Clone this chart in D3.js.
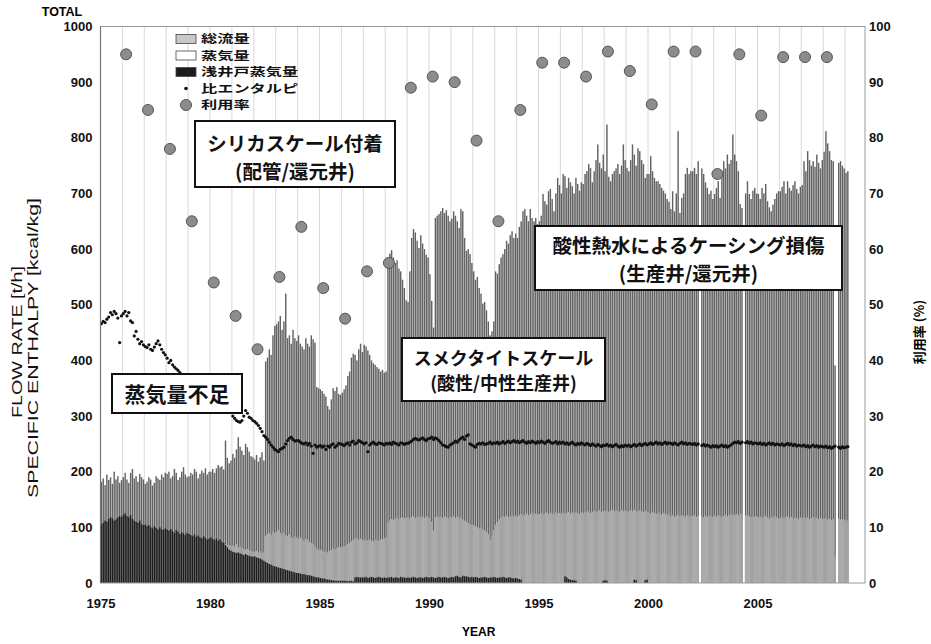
<!DOCTYPE html>
<html>
<head>
<meta charset="utf-8">
<script src="https://cdn.jsdelivr.net/npm/d3@7"></script>
<style>
  body { margin: 0; background: #fff; }
  svg { display: block; }
</style>
</head>
<body>
<svg id="chart" width="931" height="644"></svg>
<script>
// Monthly plant records, one row per calendar year starting in 1975 (t/h and kcal/kg)
const firstYear = 1975;

const totalFlow = [
  [182,188,176,195,185,190,178,200,186,192,180,185],
  [190,198,186,180,198,205,188,192,182,196,190,186],
  [178,182,190,186,175,180,192,188,185,195,190,198],
  [196,200,188,192,205,198,185,190,200,208,195,190],
  [192,198,195,205,200,188,196,202,198,206,195,200],
  [200,205,198,206,212,208,210,204,256,225,215,220],
  [232,225,240,262,245,238,230,250,244,236,228,226],
  [222,230,218,226,235,220,398,405,420,410,445,462],
  [465,470,480,455,470,520,440,445,430,455,440,435],
  [445,430,425,420,440,430,425,445,438,432,352,350],
  [348,345,340,335,318,312,330,350,345,352,340,338],
  [342,348,355,372,380,405,412,410,400,420,430,415],
  [428,425,418,410,400,395,392,388,385,380,383,378],
  [380,584,592,598,585,575,580,565,560,545,530,508],
  [505,560,620,636,630,615,602,625,610,600,590,585],
  [555,507,459,656,660,663,668,674,665,670,660,650],
  [655,668,660,650,638,672,668,620,597,600,591,575],
  [560,545,550,530,520,502,505,490,470,445,452,470],
  [560,556,573,585,591,600,615,610,625,632,620,628],
  [620,640,650,668,672,660,650,672,656,650,656,645],
  [650,660,699,686,680,704,708,690,668,700,728,715],
  [700,735,731,710,728,720,713,700,728,717,705,720],
  [717,735,740,753,746,720,740,760,788,755,745,770],
  [740,824,730,722,735,740,745,753,735,750,788,760],
  [746,740,760,788,770,750,781,776,760,753,728,735],
  [735,767,740,728,722,722,717,710,705,700,690,685],
  [672,704,668,700,812,665,692,700,735,746,735,740],
  [740,746,735,758,0,745,735,720,710,699,705,690],
  [699,710,722,692,740,758,745,770,753,760,806,770],
  [758,740,681,674,0,700,722,699,690,705,710,700],
  [699,690,710,700,717,686,675,668,680,690,700,704],
  [704,712,722,700,722,710,705,715,722,708,700,712],
  [715,758,740,776,760,750,758,748,770,755,745,760],
  [775,812,790,776,760,758,391,0,755,758,750,745],
  [737,740]
];

const steamFlow = [
  [100,103,108,106,110,112,110,108,110,112,114,112],
  [116,120,115,112,116,110,108,105,104,108,102,100],
  [100,98,100,96,94,98,95,92,96,93,91,94],
  [92,90,93,89,86,91,88,84,87,85,82,86],
  [84,82,80,83,79,81,78,76,80,78,76,78],
  [80,78,76,78,75,77,74,72,70,68,68,67],
  [68,66,70,64,66,63,62,60,61,59,58,57],
  [56,58,55,57,54,56,85,88,90,86,92,90],
  [92,95,90,88,92,86,84,88,82,80,84,82],
  [80,82,78,76,80,78,74,72,70,66,62,60],
  [60,58,56,57,55,58,60,62,60,63,65,64],
  [65,66,68,70,72,75,78,80,82,78,80,78],
  [78,76,77,78,76,75,78,77,76,78,79,80],
  [82,108,112,115,114,116,118,115,117,118,116,118],
  [118,116,119,120,117,118,120,118,119,117,120,118],
  [116,110,95,118,120,118,119,117,120,118,116,119],
  [118,120,117,119,116,118,114,112,110,108,106,105],
  [104,102,100,98,100,97,95,92,88,77,85,95],
  [105,110,115,118,120,119,121,118,120,122,119,121],
  [120,122,124,121,123,125,122,124,126,123,125,124],
  [124,126,123,125,127,124,126,125,123,127,125,126],
  [125,127,124,126,128,125,127,126,128,126,124,127],
  [126,128,127,129,126,128,130,127,129,131,128,130],
  [129,131,128,130,132,129,131,130,128,131,129,130],
  [130,128,131,129,132,130,128,131,129,127,130,128],
  [127,125,128,126,124,127,125,123,126,124,122,125],
  [120,122,119,121,123,120,122,121,119,122,120,121],
  [120,122,119,121,0,120,118,121,119,122,120,119],
  [121,119,122,120,118,121,123,120,122,124,121,123],
  [124,122,125,123,0,121,122,120,118,121,119,120],
  [118,120,117,119,121,118,116,119,117,120,118,116],
  [117,119,116,118,120,117,119,116,118,117,115,118],
  [117,119,116,118,115,117,119,116,118,115,117,116],
  [115,117,114,116,113,115,47,0,116,114,115,113],
  [114,112]
];

const shallowSteam = [
  [105,108,112,110,115,118,116,112,114,118,120,118],
  [122,125,120,118,122,115,112,110,108,112,106,104],
  [105,102,104,100,98,102,99,96,100,97,95,98],
  [96,94,97,93,90,95,92,88,91,89,86,90],
  [88,86,84,87,83,85,82,80,84,81,78,80],
  [82,79,77,80,76,78,74,72,68,64,60,58],
  [56,55,54,55,53,52,50,52,50,49,48,47],
  [48,46,45,44,42,40,38,36,34,33,31,30],
  [29,28,27,26,25,24,23,22,21,20,19,18],
  [18,17,16,16,15,14,14,13,12,11,10,10],
  [9,8,8,7,6,6,5,5,4,4,4,4],
  [4,4,4,3,4,4,3,10,11,10,10,10],
  [10,11,9,10,11,10,9,10,11,10,9,10],
  [9,10,10,11,9,10,10,9,11,10,10,9],
  [10,9,10,11,10,9,10,10,9,10,11,10],
  [10,11,10,9,10,11,10,10,11,10,9,10],
  [11,10,12,13,11,10,13,12,12,11,10,11],
  [10,11,10,9,10,10,11,10,9,10,10,11],
  [10,9,10,10,11,10,9,10,10,9,8,9],
  [8,7,6,0,0,0,0,0,0,0,0,0],
  [0,0,0,0,0,0,0,0,0,0,0,0],
  [0,0,12,10,7,6,5,5,4,0,0,0],
  [0,0,0,0,0,0,0,0,0,0,0,4],
  [5,4,0,0,0,0,0,0,0,0,0,0],
  [0,0,0,0,6,5,0,0,0,0,5,6]
];

const enthalpy = [
  [466,470,468,474,478,486,482,488,484,476,432,480],
  [484,488,480,486,471,468,444,452,438,430,434,428],
  [425,423,428,420,418,424,430,435,428,420,414,410],
  [404,396,400,392,388,385,382,378,375,372,370,366],
  [364,362,360,358,355,352,350,348,346,344,342,340],
  [338,336,334,332,330,328,326,324,322,320,318,316],
  [300,296,292,290,289,292,300,310,305,298,296,292],
  [290,287,283,278,272,265,262,258,253,248,244,240],
  [238,236,240,242,244,250,256,260,262,258,255,256],
  [256,253,251,250,252,248,251,246,233,248,244,246],
  [247,244,246,240,246,244,248,250,244,247,251,250],
  [249,247,250,252,248,253,255,250,252,256,254,252],
  [250,252,236,248,251,253,250,249,252,251,250,248],
  [251,250,252,249,253,251,250,248,252,251,249,251],
  [251,253,255,258,260,258,257,259,261,258,256,259],
  [260,262,258,261,259,256,252,248,247,245,244,248],
  [250,252,255,253,257,260,262,258,264,266,250,248],
  [246,244,249,251,250,252,249,250,251,253,250,252],
  [251,253,250,252,254,251,253,255,252,254,256,253],
  [255,252,254,256,253,251,254,252,255,253,251,254],
  [252,255,253,251,254,256,253,251,252,254,250,253],
  [251,253,250,252,249,251,253,250,248,251,249,252],
  [250,248,251,249,247,250,248,246,249,247,245,248],
  [247,249,246,248,245,247,249,246,244,247,245,248],
  [246,248,245,247,249,246,248,250,247,249,251,248],
  [250,252,249,251,253,250,252,249,251,253,250,252],
  [251,249,252,250,248,251,253,250,252,249,251,250],
  [249,251,248,250,null,247,249,246,248,246,244,247],
  [245,247,244,246,248,245,247,244,246,248,251,253],
  [252,254,251,253,null,252,254,251,253,250,252,251],
  [250,252,249,251,248,250,252,249,251,248,250,249],
  [248,250,247,249,251,248,250,247,249,246,248,247],
  [246,248,245,247,244,246,248,245,247,244,246,245],
  [244,246,243,245,242,244,246,null,244,242,245,243],
  [244,245]
];

// Yearly utilisation rate (%), right axis
const utilYears = [1976,1977,1978,1979,1980,1981,1982,1983,1984,1985,1986,1987,1988,1989,1990,1991,
                   1992,1993,1994,1995,1996,1997,1998,1999,2000,2001,2002,2003,2004,2005,2006,2007,2008];
const utilRate  = [95,85,78,65,54,48,42,55,64,53,47.5,56,57.5,89,91,90,
                   79.5,65,85,93.5,93.5,91,95.5,92,86,95.5,95.5,73.5,95,84,94.5,94.5,94.5];

const flowTicks = [0,100,200,300,400,500,600,700,800,900,1000];
const rateTicks = [0,10,20,30,40,50,60,70,80,90,100];
const yearTicks = [1975,1980,1985,1990,1995,2000,2005];

const legendLabels = ["総流量", "蒸気量", "浅井戸蒸気量", "比エンタルピ", "利用率"];

// ---------- layout ----------
const plot = { left: 100.5, right: 865, top: 26.5, bottom: 583 };
const pxPerYear = 21.9;

const svg = d3.select("#chart");
const numFont = "'Liberation Sans', Arial, sans-serif";
const jpFont = "'Noto Sans CJK JP', 'Noto Sans', sans-serif";

const x = d3.scaleLinear()
  .domain([firstYear, firstYear + (plot.right - plot.left) / pxPerYear])
  .range([plot.left, plot.right]);
const y = d3.scaleLinear().domain([0, 1000]).range([plot.bottom, plot.top]);
const yR = d3.scaleLinear().domain([0, 100]).range([plot.bottom, plot.top]);

// flatten to monthly records
const months = [];
totalFlow.forEach((row, yi) => {
  row.forEach((v, m) => {
    months.push({
      t: firstYear + yi + m / 12,
      total: v,
      steam: steamFlow[yi][m],
      shallow: (shallowSteam[yi] || [])[m] || 0,
      h: enthalpy[yi][m]
    });
  });
});

const monthW = x(firstYear + 1 / 12) - x(firstYear);
const barW = monthW * 0.78;

// yearly grid lines
const gridYears = d3.range(firstYear + 1, 2010);
svg.append("g")
  .selectAll("line").data(gridYears).join("line")
  .attr("x1", d => x(d)).attr("x2", d => x(d))
  .attr("y1", plot.top).attr("y2", plot.bottom)
  .attr("stroke", "#cfcfcf").attr("stroke-width", 0.8);

// bars: total, steam, shallow-well steam drawn from zero, back to front
const series = [
  { key: "total", fill: "#626262" },
  { key: "steam", fill: "#ababab" },
  { key: "shallow", fill: "#1c1c1c" }
];
series.forEach(s => {
  svg.append("g")
    .selectAll("rect").data(months.filter(d => d[s.key] > 0)).join("rect")
    .attr("x", d => x(d.t) + (monthW - barW) / 2)
    .attr("width", barW)
    .attr("y", d => y(d[s.key]))
    .attr("height", d => y(0) - y(d[s.key]))
    .attr("fill", s.fill);
});

// specific enthalpy dots
svg.append("g")
  .selectAll("circle").data(months.filter(d => d.h != null)).join("circle")
  .attr("cx", d => x(d.t + 1 / 24))
  .attr("cy", d => y(d.h))
  .attr("r", 1.6)
  .attr("fill", "#111");

// utilisation rate markers
svg.append("g")
  .selectAll("circle").data(utilYears.map((yr, i) => ({ yr, v: utilRate[i] }))).join("circle")
  .attr("cx", d => x(d.yr + 0.17))
  .attr("cy", d => yR(d.v))
  .attr("r", 5.5)
  .attr("fill", "#8c8c8c")
  .attr("stroke", "#555")
  .attr("stroke-width", 1);

// plot frame
svg.append("rect")
  .attr("x", plot.left).attr("y", plot.top)
  .attr("width", plot.right - plot.left).attr("height", plot.bottom - plot.top)
  .attr("fill", "none").attr("stroke", "#9a9a9a").attr("stroke-width", 1);
svg.append("line")
  .attr("x1", plot.left).attr("x2", plot.left)
  .attr("y1", plot.top).attr("y2", plot.bottom)
  .attr("stroke", "#777").attr("stroke-width", 1.2);

// axes
function styleAxis(g) {
  g.select(".domain").remove();
  g.selectAll("text")
    .attr("font-family", numFont)
    .attr("font-weight", "bold")
    .attr("font-size", 13)
    .attr("fill", "#111");
}
svg.append("g")
  .attr("transform", `translate(${plot.left},0)`)
  .call(d3.axisLeft(y).tickValues(flowTicks).tickFormat(d3.format("d")).tickSize(0).tickPadding(8))
  .call(styleAxis);
svg.append("g")
  .attr("transform", `translate(${plot.right},0)`)
  .call(d3.axisRight(yR).tickValues(rateTicks).tickFormat(d3.format("d")).tickSize(0).tickPadding(4))
  .call(styleAxis);
svg.append("g")
  .attr("transform", `translate(0,${plot.bottom})`)
  .call(d3.axisBottom(x).tickValues(yearTicks).tickFormat(d3.format("d")).tickSize(0).tickPadding(16))
  .call(styleAxis);

// axis titles
svg.append("text")
  .attr("x", 62).attr("y", 15.5)
  .attr("text-anchor", "middle")
  .attr("font-family", numFont).attr("font-weight", "bold").attr("font-size", 12.5)
  .text("TOTAL");
svg.append("text")
  .attr("x", (plot.left + plot.right) / 2 - 4).attr("y", 636)
  .attr("text-anchor", "middle")
  .attr("font-family", numFont).attr("font-weight", "bold").attr("font-size", 12)
  .text("YEAR");
[["FLOW RATE [t/h]", 17, 342, 152], ["SPECIFIC ENTHALPY [kcal/kg]", 33, 348, 300]].forEach(([t, cx, cy, len]) => {
  svg.append("text")
    .attr("transform", `translate(${cx},${cy}) rotate(-90)`)
    .attr("text-anchor", "middle")
    .attr("dy", "0.36em")
    .attr("font-family", numFont).attr("font-size", 14)
    .attr("textLength", len).attr("lengthAdjust", "spacingAndGlyphs")
    .attr("fill", "#111")
    .text(t);
});
svg.append("text")
  .attr("transform", "translate(919,332) rotate(-90)")
  .attr("text-anchor", "middle")
  .attr("dy", "0.36em")
  .attr("font-family", jpFont).attr("font-weight", "bold").attr("font-size", 13)
  .text("利用率 (%)");

// annotation boxes: [x, y, w, h], line centres relative to box top
const notes = [
  { lines: ["シリカスケール付着", "(配管/還元井)"], box: [195, 121, 200, 66], size: 19.5, rows: [23, 51] },
  { lines: ["蒸気量不足"], box: [112, 374, 130, 39], size: 21, rows: [20] },
  { lines: ["スメクタイトスケール", "(酸性/中性生産井)"], box: [402, 338, 203, 63], size: 18, rows: [21, 46] },
  { lines: ["酸性熱水によるケーシング損傷", "(生産井/還元井)"], box: [535, 226, 307, 64], size: 19.5, rows: [20, 48] }
];
notes.forEach(n => {
  const [bx, by, bw, bh] = n.box;
  const g = svg.append("g");
  g.append("rect")
    .attr("x", bx).attr("y", by).attr("width", bw).attr("height", bh)
    .attr("fill", "#fff").attr("stroke", "#111").attr("stroke-width", 2);
  n.lines.forEach((t, i) => {
    g.append("text")
      .attr("x", bx + bw / 2).attr("y", by + n.rows[i])
      .attr("dy", "0.36em")
      .attr("text-anchor", "middle")
      .attr("font-family", jpFont).attr("font-weight", "bold").attr("font-size", n.size)
      .attr("fill", "#111")
      .text(t);
  });
});

// legend
const lg = svg.append("g").attr("transform", "translate(176,39)");
const rowH = 16.5;
legendLabels.forEach((t, i) => {
  const cy = i * rowH;
  if (i < 3) {
    lg.append("rect")
      .attr("x", 0).attr("y", cy - 4.5).attr("width", 20).attr("height", 9)
      .attr("fill", ["#c8c8c8", "#fff", "#1c1c1c"][i])
      .attr("stroke", "#444").attr("stroke-width", 0.8);
  } else if (i === 3) {
    lg.append("circle").attr("cx", 10).attr("cy", cy).attr("r", 1.8).attr("fill", "#111");
  } else {
    lg.append("circle").attr("cx", 10).attr("cy", cy).attr("r", 5.5)
      .attr("fill", "#8c8c8c").attr("stroke", "#555");
  }
  lg.append("text")
    .attr("x", 25).attr("y", cy).attr("dy", "0.36em")
    .attr("font-family", jpFont).attr("font-weight", "bold").attr("font-size", 11.3)
    .attr("textLength", t.length * 16.2).attr("lengthAdjust", "spacingAndGlyphs")
    .attr("fill", "#111")
    .text(t);
});
</script>
</body>
</html>
